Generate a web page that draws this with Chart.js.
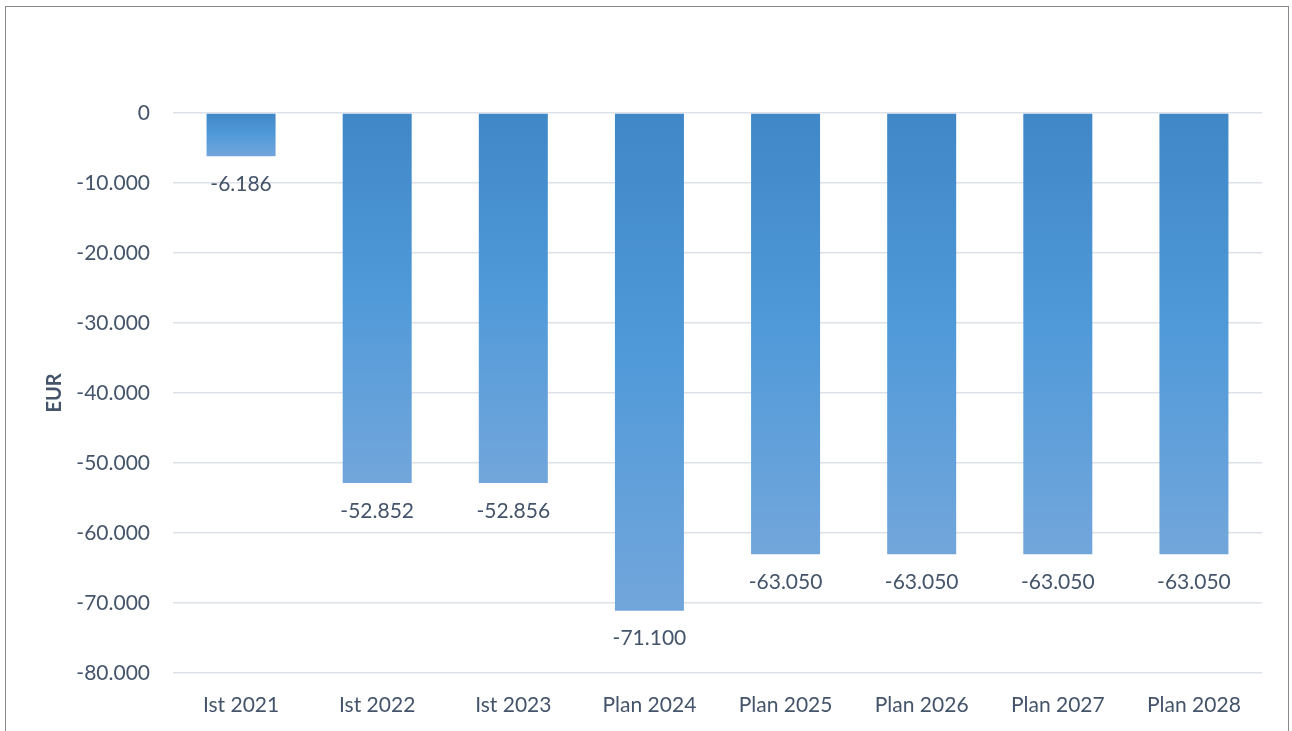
<!DOCTYPE html>
<html>
<head>
<meta charset="utf-8">
<script src="https://cdn.jsdelivr.net/npm/chart.js@4.4.1/dist/chart.umd.min.js"></script>
<style>
    html, body { margin: 0; padding: 0; background: #ffffff; overflow: hidden; }
    #wrap { position: relative; width: 1292px; height: 731px; }
    #frame { position: absolute; left: 5px; top: 6px; width: 1284px; height: 800px; border: 1.5px solid #8a8a8a; box-sizing: border-box; }
    #chart { position: absolute; left: 0; top: 0; }
</style>
</head>
<body>
<div id="wrap">
    <div id="frame"></div>
    <canvas id="chart" width="1292" height="731"></canvas>
</div>
<script>
// categories and values
const categories = ['Ist 2021', 'Ist 2022', 'Ist 2023', 'Plan 2024', 'Plan 2025', 'Plan 2026', 'Plan 2027', 'Plan 2028'];
const values = [-6186, -52852, -52856, -71100, -63050, -63050, -63050, -63050];
const y_min = -80000;
const y_max = 0;
const y_step = 10000;

const text_colour = '#44546a';
const font_family = 'Lato, "Open Sans", sans-serif';

function formatDE(v) {
    return v.toLocaleString('de-DE');
}

// vertical gradient for each bar, dark at the zero line, lighter at the end
function barGradient(context) {
    const chart = context.chart;
    const area = chart.chartArea;
    if (!area) {
        return '#4a90d0';
    }
    const yScale = chart.scales.y;
    const top = yScale.getPixelForValue(0);
    const bottom = yScale.getPixelForValue(context.raw);
    if (!isFinite(top) || !isFinite(bottom) || top === bottom) {
        return '#4a90d0';
    }
    const g = chart.ctx.createLinearGradient(0, top, 0, bottom);
    g.addColorStop(0, '#3f87c7');
    g.addColorStop(0.5, '#519ad9');
    g.addColorStop(1, '#72a6db');
    return g;
}

const valueLabels = {
    id: 'valueLabels',
    afterDatasetsDraw(chart) {
        const ctx = chart.ctx;
        const meta = chart.getDatasetMeta(0);
        ctx.save();
        ctx.font = '21px ' + font_family;
        ctx.fillStyle = text_colour;
        ctx.textAlign = 'center';
        ctx.textBaseline = 'middle';
        meta.data.forEach(function (bar, i) {
            ctx.fillText(formatDE(values[i]), bar.x, bar.y + 28);
        });
        ctx.restore();
    }
};

const canvas = document.getElementById('chart');
const chart = new Chart(canvas, {
    type: 'bar',
    data: {
        labels: categories,
        datasets: [{
            label: 'EUR',
            data: values,
            backgroundColor: barGradient,
            borderWidth: 0,
            categoryPercentage: 1.0,
            barPercentage: 0.507
        }]
    },
    options: {
        responsive: false,
        animation: false,
        devicePixelRatio: 1,
        layout: {
            padding: { left: 43, right: 30, top: 113, bottom: 0 }
        },
        plugins: {
            legend: { display: false },
            tooltip: { enabled: false }
        },
        scales: {
            x: {
                grid: { display: false, drawTicks: false },
                border: { display: false },
                ticks: {
                    color: text_colour,
                    font: { family: font_family, size: 21 },
                    padding: 20,
                    maxRotation: 0
                },
                afterFit(scale) { scale.height = 731 - 673; }
            },
            y: {
                min: y_min,
                max: y_max,
                grid: { color: '#dde2ea', lineWidth: 1.5, drawTicks: false },
                border: { display: false },
                ticks: {
                    stepSize: y_step,
                    color: text_colour,
                    font: { family: font_family, size: 21 },
                    padding: 23,
                    callback: function (v) { return formatDE(v); }
                },
                title: {
                    display: true,
                    text: 'EUR',
                    color: text_colour,
                    font: { family: font_family, size: 20, weight: 'bold' },
                    padding: 0
                },
                afterFit(scale) { scale.width = 173 - 43; }
            }
        }
    },
    plugins: [valueLabels]
});
</script>
</body>
</html>
